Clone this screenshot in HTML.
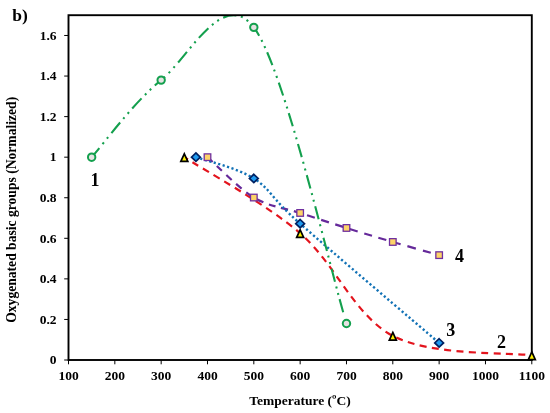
<!DOCTYPE html>
<html><head><meta charset="utf-8"><title>chart</title>
<style>
html,body{margin:0;padding:0;background:#fff;}
body{width:550px;height:413px;position:relative;overflow:hidden;font-family:"Liberation Serif",serif;font-weight:bold;color:#000;}
.t{position:absolute;white-space:nowrap;line-height:1;}
.xt{font-size:13.5px;width:60px;text-align:center;}
.yt{font-size:13.5px;width:40px;text-align:right;}
.lb{font-size:18px;}
#w{position:absolute;left:0;top:0;width:550px;height:413px;filter:blur(0.3px);}
</style></head><body><div id="w">
<svg width="550" height="413" viewBox="0 0 550 413" style="position:absolute;left:0;top:0">
<defs><clipPath id="c"><rect x="68.50" y="15.20" width="463.30" height="350.80"/></clipPath></defs>
<line x1="68.50" y1="360.00" x2="68.50" y2="364.30" stroke="#000" stroke-width="1"/>
<line x1="114.83" y1="360.00" x2="114.83" y2="364.30" stroke="#000" stroke-width="1"/>
<line x1="161.16" y1="360.00" x2="161.16" y2="364.30" stroke="#000" stroke-width="1"/>
<line x1="207.49" y1="360.00" x2="207.49" y2="364.30" stroke="#000" stroke-width="1"/>
<line x1="253.82" y1="360.00" x2="253.82" y2="364.30" stroke="#000" stroke-width="1"/>
<line x1="300.15" y1="360.00" x2="300.15" y2="364.30" stroke="#000" stroke-width="1"/>
<line x1="346.48" y1="360.00" x2="346.48" y2="364.30" stroke="#000" stroke-width="1"/>
<line x1="392.81" y1="360.00" x2="392.81" y2="364.30" stroke="#000" stroke-width="1"/>
<line x1="439.14" y1="360.00" x2="439.14" y2="364.30" stroke="#000" stroke-width="1"/>
<line x1="485.47" y1="360.00" x2="485.47" y2="364.30" stroke="#000" stroke-width="1"/>
<line x1="531.80" y1="360.00" x2="531.80" y2="364.30" stroke="#000" stroke-width="1"/>
<line x1="64.20" y1="360.00" x2="68.50" y2="360.00" stroke="#000" stroke-width="1"/>
<line x1="64.20" y1="319.44" x2="68.50" y2="319.44" stroke="#000" stroke-width="1"/>
<line x1="64.20" y1="278.87" x2="68.50" y2="278.87" stroke="#000" stroke-width="1"/>
<line x1="64.20" y1="238.31" x2="68.50" y2="238.31" stroke="#000" stroke-width="1"/>
<line x1="64.20" y1="197.74" x2="68.50" y2="197.74" stroke="#000" stroke-width="1"/>
<line x1="64.20" y1="157.18" x2="68.50" y2="157.18" stroke="#000" stroke-width="1"/>
<line x1="64.20" y1="116.61" x2="68.50" y2="116.61" stroke="#000" stroke-width="1"/>
<line x1="64.20" y1="76.05" x2="68.50" y2="76.05" stroke="#000" stroke-width="1"/>
<line x1="64.20" y1="35.48" x2="68.50" y2="35.48" stroke="#000" stroke-width="1"/>
<g fill="none" clip-path="url(#c)">
<path d="M184.32 157.18 C203.63 169.85 265.40 203.45 300.15 233.24 C334.90 263.02 354.20 315.51 392.81 335.86 C431.42 356.21 508.63 352.09 531.80 355.34" stroke="#e3141d" stroke-width="2.2" stroke-dasharray="7 5.37" stroke-dashoffset="2.7"/>
<path d="M207.49 157.18 C215.21 163.90 238.38 188.24 253.82 197.54 C269.26 206.83 284.71 207.88 300.15 212.95 C315.59 218.02 331.04 223.13 346.48 227.96 C361.92 232.80 377.37 237.43 392.81 241.96 C408.25 246.49 431.42 252.94 439.14 255.14" stroke="#65299a" stroke-width="2.2" stroke-dasharray="7.15 5.85 7.21 5.90 7.15 5.85 7.26 5.94 6.93 5.67 7.26 5.94 6.88 5.62 7.37 6.03 7.54 6.17 8.19 6.70 8.14 6.66 8.30 6.79 8.42 6.89 8.08 6.61 8.30 6.79 8.36 6.84 8.74 7.15 8.42 6.89 8.80 7.20"/>
<path d="M195.91 157.18 C205.56 160.73 236.45 167.39 253.82 178.47 C271.19 189.56 269.26 196.29 300.15 223.70 C331.04 251.12 415.97 323.09 439.14 342.96" stroke="#1272b6" stroke-width="2.4" stroke-dasharray="2.2 2.45"/>
<path d="M91.66 157.18 C103.25 144.33 134.13 101.74 161.16 80.10 C188.19 58.47 222.93 -13.20 253.82 27.37 C284.71 67.93 331.04 274.14 346.48 323.49" stroke="#14a04e" stroke-width="2.1" stroke-dashoffset="1.5" stroke-dasharray="13.70 5.00 2.00 5.00 2.00 5.00 13.70 4.83 2.00 4.83 2.00 4.83 13.70 4.80 2.00 4.80 2.00 4.80 13.70 5.13 2.00 5.13 2.00 5.13 13.70 4.73 2.00 4.73 2.00 4.73 13.70 4.73 2.00 4.73 2.00 4.73 13.70 4.63 2.00 4.63 2.00 4.63 13.70 4.83 2.00 4.83 2.00 4.83 13.70 4.90 2.00 4.90 2.00 4.90 13.70 4.80 2.00 4.80 2.00 4.80 13.70 4.87 2.00 4.87 2.00 4.87 13.70 4.80 2.00 4.80 2.00 4.80 13.70 4.80 2.00 4.80 2.00 4.80 13.70 4.97 2.00 4.97 2.00 4.97 13.70 4.77 2.00 4.77 2.00 4.77 13.70 4.63 2.00 4.63 2.00 4.63 13.70 3000.00"/>
</g>
<rect x="68.50" y="15.20" width="463.30" height="344.80" fill="none" stroke="#000" stroke-width="1.9"/>
<circle cx="91.66" cy="157.18" r="3.7" fill="#e6e2e2" stroke="#14a04e" stroke-width="2"/>
<circle cx="161.16" cy="80.10" r="3.7" fill="#e6e2e2" stroke="#14a04e" stroke-width="2"/>
<circle cx="253.82" cy="27.37" r="3.7" fill="#e6e2e2" stroke="#14a04e" stroke-width="2"/>
<circle cx="346.48" cy="323.49" r="3.7" fill="#e6e2e2" stroke="#14a04e" stroke-width="2"/>
<path d="M184.32 153.78 L187.82 161.38 L180.82 161.38 Z" fill="#fff200" stroke="#000" stroke-width="1.7" stroke-linejoin="miter"/>
<path d="M300.15 229.84 L303.65 237.44 L296.65 237.44 Z" fill="#fff200" stroke="#000" stroke-width="1.7" stroke-linejoin="miter"/>
<path d="M392.81 332.46 L396.31 340.06 L389.31 340.06 Z" fill="#fff200" stroke="#000" stroke-width="1.7" stroke-linejoin="miter"/>
<path d="M531.80 351.94 L535.30 359.54 L528.30 359.54 Z" fill="#fff200" stroke="#000" stroke-width="1.7" stroke-linejoin="miter"/>
<rect x="204.19" y="153.88" width="6.60" height="6.60" fill="#fdd368" stroke="#7030a0" stroke-width="1.3"/>
<rect x="250.52" y="194.24" width="6.60" height="6.60" fill="#fdd368" stroke="#7030a0" stroke-width="1.3"/>
<rect x="296.85" y="209.65" width="6.60" height="6.60" fill="#fdd368" stroke="#7030a0" stroke-width="1.3"/>
<rect x="343.18" y="224.66" width="6.60" height="6.60" fill="#fdd368" stroke="#7030a0" stroke-width="1.3"/>
<rect x="389.51" y="238.66" width="6.60" height="6.60" fill="#fdd368" stroke="#7030a0" stroke-width="1.3"/>
<rect x="435.84" y="251.84" width="6.60" height="6.60" fill="#fdd368" stroke="#7030a0" stroke-width="1.3"/>
<path d="M195.91 152.98 L200.31 157.18 L195.91 161.38 L191.51 157.18 Z" fill="#1f9bf0" stroke="#002060" stroke-width="1.7"/>
<path d="M253.82 174.27 L258.22 178.47 L253.82 182.67 L249.42 178.47 Z" fill="#1f9bf0" stroke="#002060" stroke-width="1.7"/>
<path d="M300.15 219.50 L304.55 223.70 L300.15 227.90 L295.75 223.70 Z" fill="#1f9bf0" stroke="#002060" stroke-width="1.7"/>
<path d="M439.14 338.76 L443.54 342.96 L439.14 347.16 L434.74 342.96 Z" fill="#1f9bf0" stroke="#002060" stroke-width="1.7"/>
</svg>
<div class="t xt" style="left:38.5px;top:369px">100</div>
<div class="t xt" style="left:84.8px;top:369px">200</div>
<div class="t xt" style="left:131.2px;top:369px">300</div>
<div class="t xt" style="left:177.5px;top:369px">400</div>
<div class="t xt" style="left:223.8px;top:369px">500</div>
<div class="t xt" style="left:270.1px;top:369px">600</div>
<div class="t xt" style="left:316.5px;top:369px">700</div>
<div class="t xt" style="left:362.8px;top:369px">800</div>
<div class="t xt" style="left:409.1px;top:369px">900</div>
<div class="t xt" style="left:455.5px;top:369px">1000</div>
<div class="t xt" style="left:501.8px;top:369px">1100</div>
<div class="t yt" style="left:16.5px;top:353.2px">0</div>
<div class="t yt" style="left:16.5px;top:312.6px">0.2</div>
<div class="t yt" style="left:16.5px;top:272.1px">0.4</div>
<div class="t yt" style="left:16.5px;top:231.5px">0.6</div>
<div class="t yt" style="left:16.5px;top:190.9px">0.8</div>
<div class="t yt" style="left:16.5px;top:150.4px">1</div>
<div class="t yt" style="left:16.5px;top:109.8px">1.2</div>
<div class="t yt" style="left:16.5px;top:69.2px">1.4</div>
<div class="t yt" style="left:16.5px;top:28.7px">1.6</div>
<div class="t" style="font-size:13.5px;left:200px;width:200px;text-align:center;top:394px">Temperature (ºC)</div>
<div class="t" style="font-size:13.6px;left:-138.5px;width:300px;text-align:center;top:202.8px;transform:rotate(-90deg)">Oxygenated basic groups (Normalized)</div>
<div class="t" style="font-size:17.5px;left:12.3px;top:6.8px">b)</div>
<div class="t lb" style="left:90.5px;top:171px">1</div>
<div class="t lb" style="left:497.1px;top:332.7px">2</div>
<div class="t lb" style="left:446.3px;top:320.5px">3</div>
<div class="t lb" style="left:455.1px;top:247.1px">4</div>
</div></body></html>
